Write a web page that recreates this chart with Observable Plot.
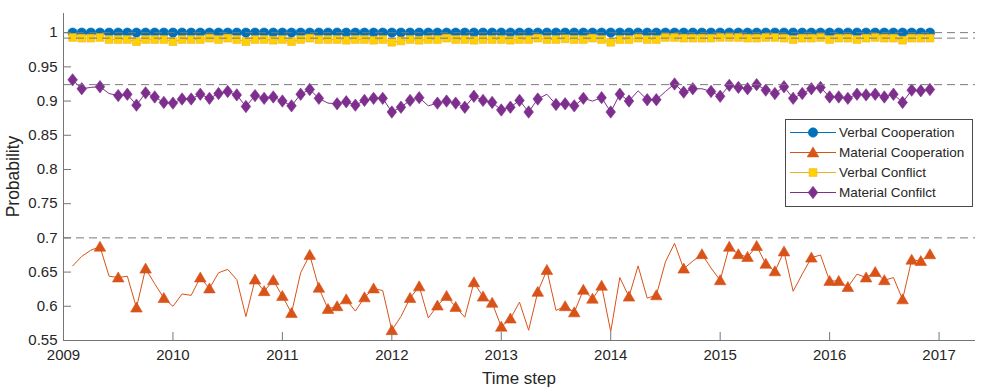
<!DOCTYPE html>
<html><head><meta charset="utf-8">
<script src="https://cdn.jsdelivr.net/npm/d3@7"></script>
<script src="https://cdn.jsdelivr.net/npm/@observablehq/plot@0.6"></script>
<style>
html,body{margin:0;padding:0;background:#fff;}
#chart{position:relative;width:997px;height:392px;}
</style></head><body><div id="chart"></div>
<script>
// ---------- data ----------
const timeIndex = d3.range(1, 96);              // monthly time steps (Feb 2009 .. Dec 2016)
const timeSteps = timeIndex.map(k => 2009 + k / 12);

const verbalCooperation = [
1,1,1,1,1,1,1,1,1,1,1,1,1,1,1,1,1,1,1,1,1,1,1,1,1,1,1,1,1,1,1,1,
1,1,1,1,1,1,1,1,1,1,1,1,1,1,1,1,1,1,1,1,1,1,1,1,1,1,1,1,1,1,1,1,
1,1,1,1,1,1,1,1,1,1,1,1,1,1,1,1,1,1,1,1,1,1,1,1,1,1,1,1,1,1,1];

const materialCooperation = [
0.659,0.673,0.682,0.687,0.644,0.642,0.644,0.598,0.655,0.633,
0.612,0.600,0.618,0.616,0.642,0.626,0.649,0.654,0.639,0.585,
0.639,0.622,0.638,0.615,0.590,0.649,0.675,0.627,0.596,0.600,
0.610,0.593,0.613,0.626,0.623,0.565,0.585,0.612,0.629,0.583,
0.601,0.615,0.599,0.584,0.635,0.614,0.605,0.570,0.582,0.606,
0.565,0.621,0.653,0.594,0.600,0.591,0.624,0.611,0.630,0.563,
0.642,0.614,0.659,0.612,0.616,0.665,0.692,0.655,0.666,0.676,
0.656,0.638,0.687,0.676,0.672,0.688,0.662,0.651,0.680,0.622,
0.647,0.671,0.675,0.637,0.637,0.628,0.647,0.642,0.650,0.638,
0.642,0.610,0.668,0.666,0.676];

const verbalConflict = [
0.993,0.992,0.992,0.993,0.990,0.990,0.990,0.987,0.990,0.990,
0.990,0.987,0.990,0.990,0.990,0.992,0.990,0.992,0.990,0.987,
0.990,0.990,0.989,0.990,0.987,0.990,0.992,0.990,0.990,0.990,
0.989,0.990,0.990,0.989,0.990,0.986,0.988,0.990,0.989,0.990,
0.990,0.992,0.990,0.990,0.989,0.990,0.990,0.990,0.989,0.990,
0.990,0.992,0.990,0.990,0.991,0.990,0.990,0.992,0.990,0.986,
0.990,0.990,0.992,0.990,0.990,0.993,0.993,0.992,0.992,0.992,
0.992,0.993,0.993,0.993,0.992,0.992,0.993,0.993,0.992,0.990,
0.992,0.992,0.993,0.990,0.992,0.992,0.990,0.992,0.993,0.992,
0.992,0.989,0.992,0.992,0.992];

const materialConflict = [
0.931,0.918,0.920,0.921,0.911,0.908,0.910,0.894,0.912,0.906,
0.898,0.897,0.903,0.903,0.910,0.904,0.911,0.914,0.909,0.892,
0.908,0.904,0.906,0.900,0.893,0.910,0.917,0.904,0.897,0.896,
0.899,0.894,0.901,0.904,0.904,0.884,0.891,0.901,0.905,0.893,
0.897,0.900,0.897,0.891,0.907,0.901,0.898,0.887,0.891,0.901,
0.884,0.903,0.910,0.895,0.896,0.893,0.904,0.900,0.905,0.884,
0.910,0.900,0.915,0.902,0.902,0.914,0.925,0.913,0.918,0.918,
0.914,0.907,0.923,0.920,0.918,0.924,0.916,0.911,0.921,0.904,
0.911,0.918,0.920,0.906,0.906,0.904,0.910,0.909,0.910,0.906,
0.910,0.898,0.916,0.915,0.917];

// time-step indices that carry a marker (Material Cooperation)
const materialCooperationMarked = [4,6,8,9,11,15,16,21,22,23,24,25,27,28,29,30,31,33,34,36,38,39,
  41,42,43,45,46,47,48,49,52,53,55,56,57,58,59,62,65,68,70,72,73,74,75,76,77,78,79,82,84,85,86,
  88,89,90,92,93,94,95];
// time-step indices without a marker (Material Conflict)
const materialConflictUnmarked = [3,5,29,40,53,58,63,66,70];

const referenceLevels = [1.0, 0.992, 0.924, 0.70];
const seriesNames = ["Verbal Cooperation", "Material Cooperation", "Verbal Conflict", "Material Confilct"];
const seriesColors = ["#0072BD", "#D95319", "#EDB120", "#7E2F8E"];
const markerFills = ["#0072BD", "#D95319", "#FFD100", "#7E2F8E"];
const xTicks = [2009, 2010, 2011, 2012, 2013, 2014, 2015, 2016, 2017];
const yTicks = [0.55, 0.6, 0.65, 0.7, 0.75, 0.8, 0.85, 0.9, 0.95, 1];
const xLabel = "Time step";
const yLabel = "Probability";

// ---------- symbols ----------
const symCircle = {draw(c){ const r = 4.7; c.moveTo(r, 0); c.arc(0, 0, r, 0, 2 * Math.PI); }};
const symTriangle = {draw(c){ c.moveTo(0, -5.6); c.lineTo(5.8, 4.4); c.lineTo(-5.8, 4.4); c.closePath(); }};
const symSquare = {draw(c){ const s = 3.9; c.rect(-s, -s, 2 * s, 2 * s); }};
const symDiamond = {draw(c){ c.moveTo(0, -6.2); c.lineTo(4.8, 0); c.lineTo(0, 6.2); c.lineTo(-4.8, 0); c.closePath(); }};
const symbols = [symCircle, symTriangle, symSquare, symDiamond];

// ---------- rows ----------
const allValues = [verbalCooperation, materialCooperation, verbalConflict, materialConflict];
const markerTest = [
  k => true,
  k => materialCooperationMarked.includes(k),
  k => true,
  k => !materialConflictUnmarked.includes(k)
];
const series = allValues.map((vals, i) => vals.map((v, j) => ({
  t: timeSteps[j], v, k: timeIndex[j], marked: markerTest[i](timeIndex[j])
})));

const W = 997, H = 392, mL = 63, mR = 22, mT = 13, mB = 52;
const innerW = W - mL - mR, innerH = H - mT - mB;
const xDomain = [2009, 2017.333];
const yDomain = [0.55, 1.028];
const axisColor = "#767676";

const marks = [];
series.forEach((rows, i) => {
  marks.push(Plot.line(rows, {x: "t", y: "v", stroke: seriesColors[i], strokeWidth: 1}));
  marks.push(Plot.dot(rows.filter(d => d.marked), {x: "t", y: "v", symbol: symbols[i],
    fill: markerFills[i], stroke: seriesColors[i], strokeWidth: 0.6}));
});
marks.push(Plot.ruleY(referenceLevels, {stroke: "#7a7a7a", strokeWidth: 1, strokeDasharray: "8,5"}));
marks.push(Plot.ruleX([xDomain[0]], {stroke: axisColor, strokeWidth: 1}));
marks.push(Plot.ruleY([yDomain[0]], {stroke: axisColor, strokeWidth: 1}));
marks.push(Plot.tickX(xTicks, {x: d => d, insetTop: innerH - 8, stroke: axisColor}));
marks.push(Plot.tickY(yTicks, {y: d => d, insetRight: innerW - 8, stroke: axisColor}));
marks.push(Plot.axisX(xTicks, {tickSize: 0, tickPadding: 9, tickFormat: d => String(d), label: null, fontSize: 15}));
marks.push(Plot.axisY(yTicks, {tickSize: 0, tickPadding: 6, tickFormat: d => String(d), label: null, fontSize: 15}));

const plot = Plot.plot({
  width: W, height: H,
  marginLeft: mL, marginRight: mR, marginTop: mT, marginBottom: mB,
  style: {fontFamily: "'Liberation Sans', Arial, Helvetica, sans-serif", fontSize: "15px", color: "#262626", background: "#ffffff"},
  x: {domain: xDomain},
  y: {domain: yDomain},
  marks
});

const svg = d3.select(plot);
// axis labels
svg.append("text").attr("transform", `translate(13,${mT + innerH / 2}) rotate(-90)`)
  .attr("text-anchor", "middle").attr("dominant-baseline", "central")
  .style("font-size", "17.5px").attr("fill", "#262626").text(yLabel);
svg.append("text").attr("x", mL + innerW / 2).attr("y", 378)
  .attr("text-anchor", "middle").attr("dominant-baseline", "central")
  .style("font-size", "17px").attr("fill", "#262626").text(xLabel);

// legend
const lg = svg.append("g").attr("text-anchor", "start");
lg.append("rect").attr("x", 785.5).attr("y", 119.5).attr("width", 187).attr("height", 87)
  .attr("fill", "#fff").attr("stroke", "#4a4a4a").attr("stroke-width", 1);
seriesNames.forEach((name, i) => {
  const y = 132.5 + i * 20;
  lg.append("line").attr("x1", 790).attr("x2", 836).attr("y1", y).attr("y2", y)
    .attr("stroke", seriesColors[i]).attr("stroke-width", 1);
  lg.append("path").attr("d", d3.symbol(symbols[i])()).attr("transform", `translate(813,${y})`)
    .attr("fill", markerFills[i]).attr("stroke", seriesColors[i]).attr("stroke-width", 0.6);
  lg.append("text").attr("x", 839).attr("y", y).attr("dominant-baseline", "central")
    .attr("text-anchor", "start")
    .style("font-size", "13.5px").attr("fill", "#262626").text(name);
});

document.getElementById("chart").appendChild(plot);
</script>
</body></html>
